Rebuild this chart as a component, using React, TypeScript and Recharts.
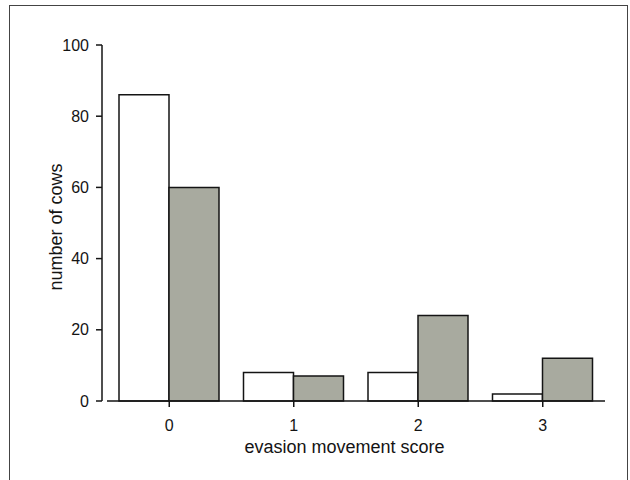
import { BarChart, Bar, XAxis, YAxis } from 'recharts';

const scores = ['0', '1', '2', '3'];
const whiteCows = [86, 8, 8, 2];
const greyCows = [60, 7, 24, 12];
const yTicks = [0, 20, 40, 60, 80, 100];

const data = scores.map((s, i) => ({
  score: s,
  white: whiteCows[i],
  grey: greyCows[i],
}));

const ink = '#141414';
const font = '"Liberation Sans", Arial, sans-serif';

export default function App() {
  return (
    <div style={{ position: 'absolute', left: 0, top: 0, width: 630, height: 480, overflow: 'hidden', background: '#fff' }}>
      <div style={{ position: 'absolute', left: 9, top: 5, width: 617, height: 490, border: '1.5px solid #444' }} />
      <div style={{ position: 'absolute', left: 0, top: 0 }}>
        <BarChart
          width={630}
          height={480}
          data={data}
          margin={{ top: 45, right: 25, left: 42, bottom: 19 }}
          barCategoryGap={12}
          barGap={0}
          style={{ fontFamily: font }}
        >
          <XAxis
            dataKey="score"
            padding={{ left: 5, right: 0 }}
            height={60}
            tickSize={6}
            tickMargin={13}
            tick={{ fill: ink, fontSize: 16 }}
            tickLine={{ stroke: ink, strokeWidth: 1.5 }}
            axisLine={{ stroke: ink, strokeWidth: 1.5, strokeDasharray: '0 5 1000' }}
            label={{ value: 'evasion movement score', position: 'insideBottom', offset: 8, dx: -9, fill: ink, fontSize: 18 }}
          />
          <YAxis
            domain={[0, 100]}
            ticks={yTicks}
            width={60}
            tickSize={6}
            tickMargin={7}
            tick={{ fill: ink, fontSize: 16 }}
            tickLine={{ stroke: ink, strokeWidth: 1.5 }}
            axisLine={{ stroke: ink, strokeWidth: 1.5 }}
            label={{ value: 'number of cows', angle: -90, position: 'insideLeft', offset: 14, dy: 4, fill: ink, fontSize: 18, style: { textAnchor: 'middle' } }}
          />
          <Bar dataKey="white" name="white" fill="#ffffff" stroke={ink} strokeWidth={1.5} isAnimationActive={false} />
          <Bar dataKey="grey" name="grey" fill="#a8aa9f" stroke={ink} strokeWidth={1.5} isAnimationActive={false} />
        </BarChart>
      </div>
    </div>
  );
}
